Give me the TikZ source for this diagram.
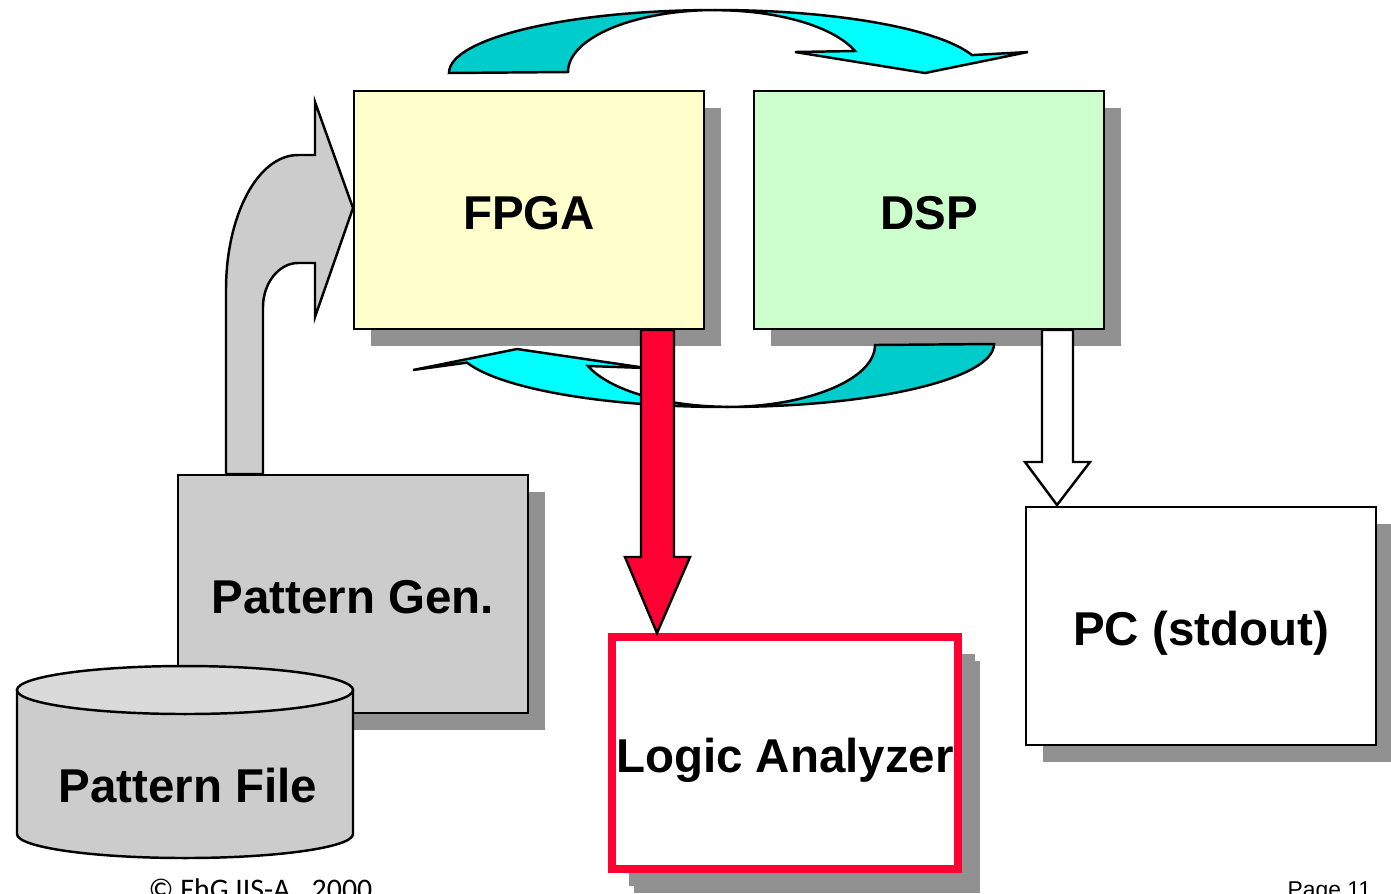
\documentclass[tikz,border=0pt]{standalone}
\usepackage{fontspec}
\setmainfont{Liberation Sans}
\newfontfamily\footfont{Carlito}
\usetikzlibrary{shadows}
\definecolor{fpgayellow}{RGB}{255,255,204}
\definecolor{dspgreen}{RGB}{204,255,204}
\definecolor{patgray}{RGB}{204,204,204}
\definecolor{toplightgray}{RGB}{218,218,218}
\definecolor{shadowgray}{RGB}{145,145,145}
\definecolor{cyanlight}{RGB}{0,255,255}
\definecolor{cyandark}{RGB}{0,204,204}
\definecolor{lared}{RGB}{255,0,51}

\begin{document}
\begin{tikzpicture}[x=0.01cm, y=-0.01cm,
    box/.style={draw, line width=0.7pt, inner sep=0pt,
        minimum width=3.5cm, minimum height=2.38cm, text height=11pt, text depth=0pt,
        font=\bfseries\fontsize{13.5}{16}\selectfont,
        drop shadow={shadow xshift=0.17cm, shadow yshift=-0.17cm, fill=shadowgray, opacity=1}},
    blockarrow/.style={draw, line width=0.7pt, line join=miter}]
    \useasboundingbox (0,0) rectangle (1391,893);

    % loop arrow over the two boxes
    \filldraw[blockarrow, fill=cyandark] (449,73) arc[start angle=180, end angle=270, x radius=267, y radius=63]
        arc[start angle=270, end angle=180, x radius=148, y radius=62] -- cycle;
    \filldraw[blockarrow, fill=cyanlight] (716,10) arc[start angle=270, end angle=343.5, x radius=267, y radius=63]
        -- (1028,52) -- (925,73) -- (795,52) -- (855,51)
        arc[start angle=340, end angle=270, x radius=148, y radius=62] -- cycle;

    % input arrow from the pattern generator
    \filldraw[blockarrow, fill=patgray] (226,474) -- (226,290) .. controls (226,215) and (258,155) .. (298,155)
        -- (315,155) -- (315,102) -- (353,208) -- (315,317) -- (315,263) -- (298,263)
        .. controls (279,263) and (263,283) .. (263,307) -- (263,474) -- cycle;

    \node[box, fill=fpgayellow] (fpga) at (529,210) {FPGA};
    \node[box, fill=dspgreen] (dsp) at (929,210) {DSP};
    \node[box, fill=patgray] (patgen) at (353,594) {Pattern Gen.};
    \node[box, fill=white] (pc) at (1201,626) {PC (stdout)};
    \node[box, draw=lared, line width=2.2pt, fill=white, minimum width=3.46cm, minimum height=2.32cm,
        drop shadow={shadow xshift=0.22cm, shadow yshift=-0.24cm, fill=shadowgray, opacity=1}]
        (la) at (785,753) {Logic Analyzer};

    % loop arrow under the two boxes
    \filldraw[blockarrow, fill=cyandark] (994,344) arc[start angle=0, end angle=90, x radius=269, y radius=63]
        arc[start angle=90, end angle=0, x radius=150, y radius=62] -- cycle;
    \filldraw[blockarrow, fill=cyanlight] (725,407) arc[start angle=90, end angle=163.5, x radius=269, y radius=62]
        -- (413,370) -- (517,349) -- (646,368) -- (588,366)
        arc[start angle=160, end angle=90, x radius=150, y radius=62] -- cycle;

    % FPGA -> logic analyzer, DSP -> PC
    \filldraw[blockarrow, fill=lared] (641,330) -- (641,557) -- (625,557) -- (657,633)
        -- (690,557) -- (674,557) -- (674,330) -- cycle;
    \filldraw[blockarrow, fill=white] (1042,330) -- (1042,462) -- (1025,462) -- (1057,505)
        -- (1090,462) -- (1073,462) -- (1073,330) -- cycle;

    % pattern file
    \filldraw[line width=0.7pt, fill=patgray] (17,690) -- (17,834)
        arc[start angle=180, end angle=0, x radius=168, y radius=24] -- (353,690) -- cycle;
    \filldraw[line width=0.7pt, fill=toplightgray] (185,690) ellipse [x radius=168, y radius=24];
    \node[font=\bfseries\fontsize{13.5}{16}\selectfont] (patfile) at (188,786) {Pattern File};

    \node[anchor=base west, font=\footfont\fontsize{8.5}{10}\selectfont, inner sep=0pt] (copy) at (148,899) {© FhG IIS-A,\ \ 2000};
    \node[anchor=base west, font=\fontsize{6.5}{8}\selectfont, inner sep=0pt] (page) at (1287,897) {Page 11};
\end{tikzpicture}
\end{document}
